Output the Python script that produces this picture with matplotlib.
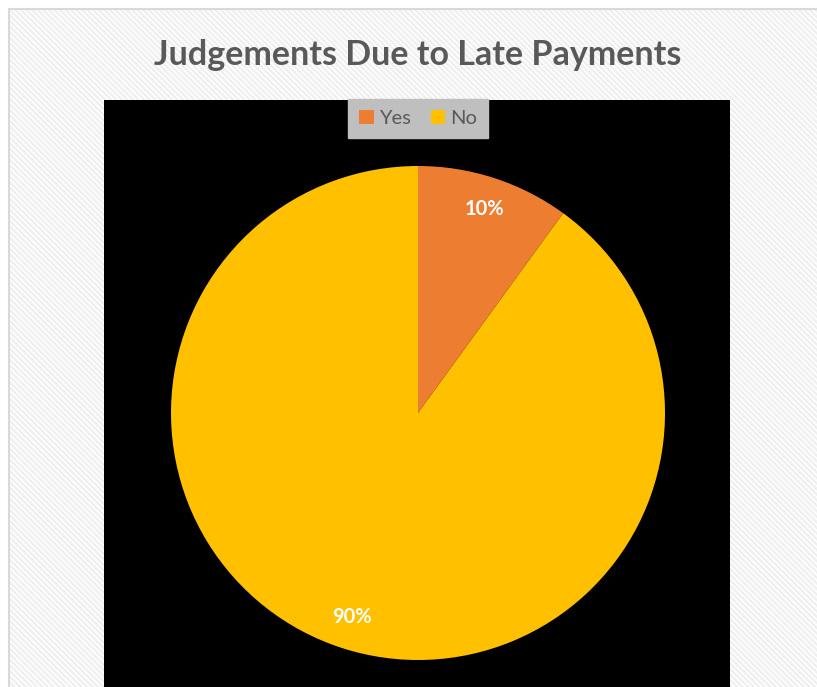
import matplotlib.pyplot as plt
from matplotlib.patches import Rectangle, Patch

# Du lieu
labels = ['Yes', 'No']
values = [10, 90]
colors = ['#ED7D31', '#FFC000']
title = 'Judgements Due to Late Payments'

W, H = 817, 687
plt.rcParams['font.family'] = ['Lato', 'DejaVu Sans']
plt.rcParams['hatch.linewidth'] = 1.6
plt.rcParams['hatch.color'] = '#efefef'

fig = plt.figure(figsize=(W / 100, H / 100), dpi=100)
fig.patch.set_facecolor('white')

# Nen soc cheo mo
bg = Rectangle((9 / W, -0.05), 1.1, 1.05 - 9 / H, transform=fig.transFigure,
               facecolor='white', edgecolor='#efefef', linewidth=0,
               hatch='\\\\\\\\\\\\', zorder=0)
fig.patches.append(bg)
# Vien ngoai
border = Rectangle((9 / W, -0.05), 1.1, 1.05 - 9 / H, transform=fig.transFigure,
                   facecolor='none', edgecolor='#d9d9d9', linewidth=1.5,
                   zorder=0.5)
fig.patches.append(border)

# Vung ve mau den
plot_area = Rectangle((104 / W, -0.01), 626 / W, 1 - 100 / H + 0.01,
                      transform=fig.transFigure, facecolor='black',
                      edgecolor='none', zorder=1)
fig.patches.append(plot_area)

fig.text(418 / W, 1 - 55 / H, title, ha='center', va='center',
         fontsize=24.5, fontweight='bold', color='#595959')

# Bieu do tron
cx, cy, r = 418, 413, 247
ax = fig.add_axes([(cx - r) / W, 1 - (cy + r) / H, 2 * r / W, 2 * r / H])
ax.set_zorder(2)
wedges, texts, autotexts = ax.pie(values, colors=colors, startangle=90,
                                  counterclock=False, autopct='%1.0f%%',
                                  pctdistance=0.87, radius=1,
                                  wedgeprops=dict(linewidth=0))
for t in autotexts:
    t.set_color('white')
    t.set_fontsize(14.5)
    t.set_fontweight('bold')
ax.set_xlim(-1, 1)
ax.set_ylim(-1, 1)
ax.set_aspect('equal')
ax.axis('off')

# Chu thich
handles = [Patch(facecolor=c, edgecolor='none') for c in colors]
leg = fig.legend(handles, labels, loc='upper center', ncol=2,
                 bbox_to_anchor=(418 / W, 1 - 99 / H), frameon=True,
                 fancybox=False, facecolor='#bfbfbf', edgecolor='#bfbfbf',
                 framealpha=1, handlelength=0.7, handleheight=0.7,
                 handletextpad=0.25, columnspacing=1.0, borderpad=0.55,
                 borderaxespad=0, prop={'size': 14.5})
for t in leg.get_texts():
    t.set_color('#595959')
leg.set_zorder(3)

fig.savefig('out.png', dpi=100)
